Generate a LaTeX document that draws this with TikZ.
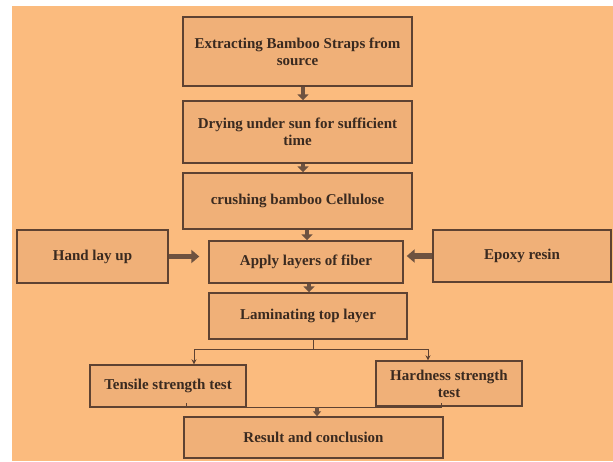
\documentclass[tikz,border=0pt]{standalone}
\usepackage{fontspec}
\setmainfont{Liberation Serif}
\usetikzlibrary{arrows.meta}
\definecolor{bgor}{HTML}{FBBB7E}
\definecolor{boxf}{HTML}{F0B078}
\definecolor{edge}{HTML}{5E4232}
\definecolor{txt}{HTML}{3A2A20}
\definecolor{arr}{HTML}{6E5240}
\begin{document}
\begin{tikzpicture}[x=1pt,y=1pt,
  stepbox/.style={draw=edge,line width=1.4pt,fill=boxf,text=txt,align=center,
    font=\bfseries\fontsize{15}{17}\selectfont,inner sep=0pt},
  bigarrow/.style={draw=arr,line width=4.5pt,-{Triangle[width=11pt,length=6pt]}},
  thin/.style={draw=edge,line width=0.8pt},
  thinarrow/.style={thin,-{Stealth[width=5pt,length=5pt]}}]
\useasboundingbox (0,0) rectangle (613,461);
\fill[white] (0,0) rectangle (613,461);
\fill[bgor] (12,0) rectangle (613,455);
\node[stepbox,minimum width=229,minimum height=69] (b1) at (297.5,409.5) {Extracting Bamboo Straps from\\source};
\node[stepbox,minimum width=229,minimum height=62] (b2) at (297.5,329) {Drying under sun for sufficient\\time};
\node[stepbox,minimum width=229,minimum height=56] (b3) at (297.5,260) {crushing bamboo Cellulose};
\node[stepbox,minimum width=151,minimum height=53] (hand) at (92.5,204.5) {Hand lay up};
\node[stepbox,minimum width=194,minimum height=42] (apply) at (306,199) {Apply layers of fiber};
\node[stepbox,minimum width=178,minimum height=52] (epoxy) at (522,205) {Epoxy resin};
\node[stepbox,minimum width=198,minimum height=46] (lam) at (308,145) {Laminating top layer};
\node[stepbox,minimum width=156,minimum height=42] (tens) at (168,75) {Tensile strength test};
\node[stepbox,minimum width=146,minimum height=45] (hard) at (449,77.5) {Hardness strength\\test};
\node[stepbox,minimum width=259,minimum height=41] (res) at (313.5,23.5) {Result and conclusion};
% thick arrows
\draw[bigarrow] (b1.south -| 303,0) -- (b2.north -| 303,0);
\draw[bigarrow] (b2.south -| 303,0) -- (b3.north -| 303,0);
\draw[bigarrow] (b3.south -| 307,0) -- (apply.north -| 307,0);
\draw[bigarrow] (apply.south -| 309,0) -- (lam.north -| 309,0);
\draw[bigarrow,line width=5.5pt,-{Triangle[width=13pt,length=8pt]}] (hand.east) -- ([xshift=-9pt]apply.west |- hand.east);
\draw[bigarrow,line width=5.5pt,-{Triangle[width=13pt,length=8pt]}] (epoxy.west) -- ([xshift=3pt]apply.east |- epoxy.west);
% branch
\coordinate (br) at (313,112);
\coordinate (brl) at (194,112);
\coordinate (brr) at (428,112);
\draw[thin] (lam.south -| br) -- (br);
\draw[thinarrow] (br) -- (brl) -- (tens.north -| brl);
\draw[thinarrow] (br) -- (brr) -- (hard.north -| brr);
% join
\coordinate (jl) at (186,58);
\coordinate (jr) at (441,58);
\coordinate (jm) at (317,54);
\draw[thin] (jl) -- (186,54) -- (441,54) -- (jr);
\draw[bigarrow,line width=3.5pt,-{Triangle[width=8pt,length=5pt]}] (jm) -- (res.north -| jm);
\end{tikzpicture}
\end{document}
